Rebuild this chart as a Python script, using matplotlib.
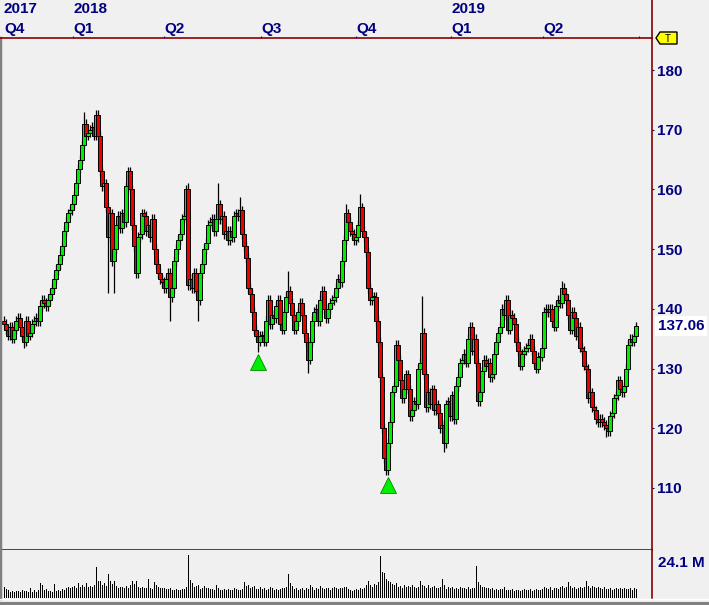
import numpy as np
import matplotlib
matplotlib.use('Agg')
import matplotlib.pyplot as plt
import matplotlib.transforms as mtransforms
from matplotlib.patches import Polygon
from matplotlib.lines import Line2D

# daily closes, left to right
closes = [
    137.5, 136.5, 135.5, 137, 135, 136.5, 138, 138.5, 137, 135.5,
    134.5, 138, 135.5, 136, 137.5, 138, 138.5, 138, 140.5, 141.5,
    141, 140.5, 141.5, 142.5, 143.5, 145, 146.5, 147.5,
    149, 150.5, 153, 154.5, 156, 156.5, 157.5, 159, 161, 163.5,
    165, 167.5, 171, 169, 169.5, 170, 170.5, 169, 172.5, 169,
    163, 160.5, 161, 157, 152, 156, 148, 150, 154, 155.5,
    153.5, 156, 154.5, 160.5, 163, 160, 154, 150.5, 146, 152,
    152.5, 156, 155.5, 153, 154, 152, 155, 150, 147.5, 146,
    145, 144.5, 143.5, 145, 146, 142, 143.5, 148, 150, 151.5,
    152.5, 155, 155.5, 160, 144, 145, 143.5, 146, 143, 141.5,
    146, 147.5, 150, 151, 154, 154.5, 155, 153, 155, 157.5,
    155, 155.5, 152.5, 153, 151.5, 153, 152, 155.5, 156, 155.5,
    156.5, 152.5, 150.5, 148.5, 143.5, 142.5, 139.5, 136.5, 135.5, 134.5,
    135.5, 135.5, 134.5, 138, 141.5, 137.5, 139, 138.5, 140.5, 141.5,
    137.5, 136.5, 139.5, 142, 143, 141, 139, 136.5, 138, 139.5,
    141, 139, 136, 134.5, 131.5, 134.5, 138, 139.5, 140, 138,
    141.5, 143, 140, 138.5, 140, 141, 141.5, 142, 143.5, 145,
    144.5, 148, 151.5, 156, 154.5, 153, 152.5, 151.5, 152, 154,
    157, 153, 152, 149.5, 143.5, 141.5, 142, 142, 138, 134.5,
    128.5, 120, 115, 113, 117.5, 121, 126, 127, 134, 131.5,
    128, 125, 126.5, 129, 126.5, 122, 123, 124.5, 124, 130,
    131, 136, 129, 123.5, 126, 124, 126.5, 123, 124, 122.5,
    120, 120.5, 117.5, 124, 124.5, 122, 125.5, 121.5, 127, 128.5,
    131, 131.5, 132.5, 131, 135, 137, 133, 135, 131, 124.5,
    126, 129.5, 131.5, 130.5, 131, 128.5, 129, 132.5, 134.5, 136,
    137, 140, 139, 141.5, 136.5, 139, 138.5, 137.5, 134.5, 133,
    130.5, 132.5, 133, 133.5, 134, 135, 133, 131, 130, 132,
    132, 133.5, 139.5, 140, 139.5, 140, 138, 137, 140.5, 141.5,
    141, 143.5, 142.5, 141.5, 139, 136.5, 139.5, 138.5, 135.5, 137,
    133.5, 133, 130.5, 130, 125, 126, 123.5, 123, 121.5, 121,
    121.5, 121, 120.5, 120, 119.5, 122, 122.5, 125, 125.5, 128,
    126.5, 126, 127, 130, 134, 135, 134.5, 135.5, 137.06,
]
first_open = 138.0

# volume in millions
volumes = [
    7.0, 5.6, 5.4, 4.2, 4.8, 3.9, 4.3, 4.6, 3.9, 5.0,
    4.8, 4.4, 4.0, 6.8, 4.0, 4.9, 4.2, 5.0, 9.6, 8.8,
    5.2, 5.7, 4.8, 4.3, 4.1, 9.2, 4.8, 5.1, 4.5, 5.8,
    5.2, 6.8, 7.3, 6.7, 7.0, 8.0, 6.8, 9.8, 7.3, 8.2,
    7.4, 10.0, 7.3, 8.0, 7.3, 8.2, 20.0, 11.2, 10.8, 8.4,
    9.6, 7.9, 15.9, 11.4, 8.9, 11.4, 7.9, 6.6, 7.4, 6.9,
    6.4, 7.6, 6.2, 8.4, 11.4, 9.2, 11.4, 7.4, 6.4, 7.0,
    6.2, 6.8, 12.6, 6.6, 5.8, 10.4, 8.6, 7.3, 6.8, 6.4,
    6.7, 6.0, 5.8, 6.4, 5.4, 5.3, 6.0, 5.5, 5.2, 5.7,
    6.0, 7.3, 28.0, 11.8, 9.8, 7.0, 7.9, 8.4, 6.0, 6.8,
    7.9, 6.2, 6.8, 5.6, 5.9, 5.2, 8.2, 6.6, 5.4, 5.2,
    5.8, 5.3, 6.0, 5.0, 5.3, 6.2, 5.8, 5.0, 5.2, 5.6,
    10.6, 7.8, 8.4, 6.6, 7.2, 7.6, 6.0, 5.6, 6.9, 5.7,
    6.5, 5.2, 5.6, 7.0, 6.4, 5.4, 6.0, 5.0, 5.9, 6.4,
    6.2, 7.1, 15.6, 9.6, 7.8, 6.0, 6.6, 5.2, 5.6, 6.4,
    5.4, 6.6, 6.0, 8.6, 7.2, 5.4, 6.4, 5.8, 8.0, 6.8,
    5.6, 6.8, 6.2, 5.4, 6.6, 7.4, 6.6, 5.8, 6.8, 6.2,
    7.0, 7.4, 5.8, 5.0, 4.6, 5.4, 6.0, 5.2, 6.6, 5.8,
    6.4, 8.2, 11.4, 8.6, 7.0, 9.2, 8.6, 10.2, 27.6, 17.0,
    16.0, 12.4, 11.4, 10.2, 9.0, 8.4, 9.8, 7.4, 7.9, 6.6,
    8.4, 7.0, 7.9, 7.2, 8.8, 7.4, 6.4, 7.0, 11.4, 8.2,
    7.6, 6.8, 8.6, 6.4, 7.0, 7.8, 6.2, 6.6, 7.4, 12.7,
    8.4, 6.0, 6.9, 6.2, 7.4, 5.6, 6.4, 5.8, 7.0, 6.2,
    6.6, 6.0, 7.2, 5.8, 6.4, 6.2, 20.7, 10.6, 8.6, 7.0,
    7.4, 6.2, 6.6, 5.8, 6.4, 5.4, 6.0, 5.2, 5.6, 6.0,
    7.2, 5.0, 5.4, 5.2, 5.8, 4.8, 5.0, 5.4, 4.8, 5.2,
    5.6, 5.2, 5.0, 6.0, 4.8, 5.2, 5.8, 5.0, 5.4, 6.0,
    7.4, 6.6, 5.8, 7.0, 5.4, 6.2, 6.6, 5.8, 7.2, 7.8,
    6.4, 7.0, 10.6, 7.8, 6.6, 7.2, 6.0, 6.4, 7.4, 6.8,
    7.2, 10.8, 8.0, 6.8, 7.6, 7.2, 6.2, 7.0, 6.4, 5.8,
    7.0, 6.0, 5.6, 6.6, 5.4, 6.0, 6.8, 5.6, 6.2, 5.8,
    6.4, 6.0, 5.6, 6.8, 5.4, 6.2, 5.8,
]

# long wicks visible on the chart (bar index -> price)
high_marks = {40: 173.0, 46: 173.3, 92: 161.0, 107: 161.0, 118: 158.7, 142: 146.3,
              171: 157.5, 178: 159.3, 209: 142.2, 251: 142.3, 279: 144.6}
low_marks = {10: 133.5, 52: 142.6, 55: 142.6, 83: 138.0, 97: 138.0, 127: 132.8,
             152: 129.2, 191: 112.2, 220: 116.0, 301: 118.5}

signal_idx = [127, 192]

# quarter starts as bar positions
quarter_pos = [34.5, 80, 128.5, 176, 223.5, 269.5, 317.5]
quarter_lbl = ['Q1', 'Q2', 'Q3', 'Q4', 'Q1', 'Q2', '']
year_lbl = {0: '2018', 4: '2019'}
price_ticks = [110, 120, 130, 140, 150, 160, 170, 180]
vol_label = 24.1

BG = '#f0f0f0'
NAVY = '#000080'
DRED = '#880000'
GREEN = '#00ee00'
RED = '#ee0000'
plt.rcParams['font.family'] = ['Liberation Sans', 'DejaVu Sans']
plt.rcParams['font.weight'] = 'bold'

n = len(closes)
idx = np.arange(n)
c = np.array(closes)
o = np.r_[first_open, c[:-1]]
top = np.maximum(o, c)
bot = np.minimum(o, c)
highs = top + 0.8
lows = bot - 0.8
for k, v in high_marks.items():
    highs[k] = max(highs[k], v)
for k, v in low_marks.items():
    lows[k] = min(lows[k], v)
colors = [GREEN if cc >= oo else RED for oo, cc in zip(o, c)]

W, H = 709, 605
fig = plt.figure(figsize=(W / 100, H / 100), dpi=100, facecolor=BG)
ax = fig.add_axes([0, (H - 550) / H, 652 / W, 512 / H], facecolor=BG)
axv = fig.add_axes([0, (H - 598) / H, 652 / W, 48 / H], facecolor=BG)

# candles
ax.vlines(idx, lows, highs, color='black', lw=0.9, zorder=1)
ax.bar(idx, np.maximum(top - bot, 0.15), bottom=bot, width=1.6, color=colors,
       edgecolor='black', linewidth=0.7, zorder=2)

# signal triangles under the lows
sig_y = [lows[max(i - 2, 0):i + 3].min() - 1.7 for i in signal_idx]
ax.plot(signal_idx, sig_y, ls='', marker='^', ms=12, mfc=GREEN, mec='#008800',
        mew=0.6, zorder=3)

ax.set_xlim(-2, 324)
ax.set_ylim(99.6, 185.36)
for s in ['top', 'bottom', 'right']:
    ax.spines[s].set_color(DRED)
    ax.spines[s].set_linewidth(1.2)
ax.spines['left'].set_color('#808080')
ax.spines['left'].set_linewidth(2.5)

ax.xaxis.tick_top()
ax.set_xticks(quarter_pos)
ax.set_xticklabels([])
ax.tick_params(axis='x', direction='out', length=1.6, width=0.8, color=NAVY)
ax.yaxis.tick_right()
ax.set_yticks(price_ticks)
ax.set_yticklabels([str(t) for t in price_ticks])
ax.tick_params(axis='y', direction='out', length=1.6, width=0.8, color=NAVY,
               labelcolor=NAVY, labelsize=11, pad=2)

# quarter / year labels above the chart
tr = mtransforms.blended_transform_factory(ax.transData, ax.transAxes)
for j, (q, lbl) in enumerate(zip(quarter_pos, quarter_lbl)):
    if lbl:
        ax.text(q, 1 + 5 / 512, lbl, transform=tr, ha='left', va='baseline',
                color=NAVY, fontsize=11)
    if j in year_lbl:
        ax.text(q, 1 + 25 / 512, year_lbl[j], transform=tr, ha='left',
                va='baseline', color=NAVY, fontsize=11)
ax.text(4 / 652, 1 + 5 / 512, 'Q4', transform=ax.transAxes, ha='left',
        va='baseline', color=NAVY, fontsize=11)
ax.text(4 / 652, 1 + 25 / 512, '2017', transform=ax.transAxes, ha='left',
        va='baseline', color=NAVY, fontsize=11)

# last price box
ax.annotate(f'{closes[-1]:.2f}', xy=(1, closes[-1]),
            xycoords=('axes fraction', 'data'), xytext=(4, 0),
            textcoords='offset points', va='center', ha='left', color=NAVY,
            fontsize=11, annotation_clip=False,
            bbox=dict(boxstyle='square,pad=0.2', fc='white', ec='none'))

# volume panel
axv.bar(idx, volumes, width=0.5, color='black', linewidth=0)
axv.set_xlim(-2, 324)
axv.set_ylim(0, 31.3)
axv.set_xticks([])
axv.yaxis.tick_right()
axv.set_yticks([vol_label])
axv.set_yticklabels([f'{vol_label} M'])
axv.tick_params(axis='y', length=0, labelcolor=NAVY, labelsize=11, pad=4)
axv.spines['top'].set_visible(False)
axv.spines['bottom'].set_visible(False)
axv.spines['right'].set_color(DRED)
axv.spines['right'].set_linewidth(1.2)
axv.spines['left'].set_color('#808080')
axv.spines['left'].set_linewidth(2.5)

# frame pieces outside the axes
def px(x, y):
    return x / W, 1 - y / H

fig.add_artist(Line2D(*zip(px(652, 0), px(652, 38)), color=DRED, lw=1.2))
fig.add_artist(Line2D(*zip(px(0, 599), px(W, 599)), color='white', lw=1.0))
fig.add_artist(Line2D(*zip(px(0, 602.5), px(W, 602.5)), color='#808080', lw=2.2))
fig.add_artist(Polygon([px(656, 38), px(660, 32), px(677, 32), px(677, 44), px(660, 44)],
                       closed=True, fc='#ffff00', ec='black', lw=1.0,
                       transform=fig.transFigure))
fig.text(*px(668, 38.5), 'T', ha='center', va='center', fontsize=7, color='black',
         fontweight='normal')

fig.savefig('out.png', dpi=100, facecolor=BG)
